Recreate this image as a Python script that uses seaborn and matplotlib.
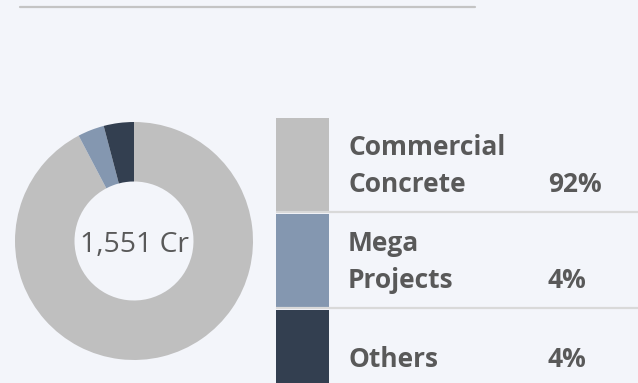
import matplotlib
matplotlib.use("Agg")
import matplotlib.pyplot as plt
from matplotlib.lines import Line2D
import seaborn as sns

# Revenue mix by segment
segments = ["Commercial\nConcrete", "Mega\nProjects", "Others"]
shares = [92.3, 3.6, 4.1]
share_labels = ["92%", "4%", "4%"]
colors = ["#bfbfbf", "#8497b0", "#333f50"]
total_label = "1,551 Cr"

BG = "#f3f5fa"
W, H, DPI = 638, 383, 100

sns.set_theme(style="white")
plt.rcParams["font.family"] = ["Open Sans", "DejaVu Sans"]

fig = plt.figure(figsize=(W / DPI, H / DPI), dpi=DPI, facecolor=BG)


def px_rect(left, top, width, height):
    return [left / W, (H - top - height) / H, width / W, height / H]


# thin rule across the top
fig.add_artist(Line2D([20 / W, 475 / W], [1 - 7 / H, 1 - 7 / H],
                      color="#c4c4c4", linewidth=1.6, transform=fig.transFigure))

# donut
ax_pie = fig.add_axes(px_rect(15, 122, 238, 238))
ax_pie.set_facecolor(BG)
ax_pie.pie(shares, colors=colors, startangle=90, counterclock=False,
           radius=1.0, wedgeprops=dict(width=0.5, linewidth=0))
ax_pie.set_xlim(-1, 1)
ax_pie.set_ylim(-1, 1)
ax_pie.set_aspect("equal")
ax_pie.axis("off")
ax_pie.text(0, 0, total_label, ha="center", va="center_baseline",
            fontsize=20.3, color="#595959")

# legend table: swatch, name, share per row
row_h = 96
ax_leg = fig.add_axes(px_rect(276, 116, W - 276, 3 * row_h))
ax_leg.set_facecolor(BG)
n = len(segments)
sns.barplot(x=[53] * n, y=list(range(n)), orient="h", palette=colors,
            hue=list(range(n)), legend=False, width=93 / row_h,
            ax=ax_leg, saturation=1, linewidth=0)
ax_leg.set_ylim(n - 0.5, -0.5)
ax_leg.set_xlim(0, W - 276)
for i in range(n - 1):
    ax_leg.axhline(i + 0.5, color="#d9d9d9", linewidth=1.6)
for i, (name, pct) in enumerate(zip(segments, share_labels)):
    lines = name.split("\n")
    if len(lines) == 2:
        ys = [i - 0.5 + 39 / row_h, i - 0.5 + 76 / row_h]
    else:
        ys = [i - 0.5 + 59 / row_h]
    for txt, y in zip(lines, ys):
        ax_leg.text(72, y, txt, ha="left", va="baseline", fontsize=19,
                    fontweight="bold", color="#595959")
    ax_leg.text(272, ys[-1], pct, ha="left", va="baseline", fontsize=19,
                fontweight="bold", color="#595959")
ax_leg.axis("off")

fig.savefig("out.png", dpi=DPI, facecolor=BG)
